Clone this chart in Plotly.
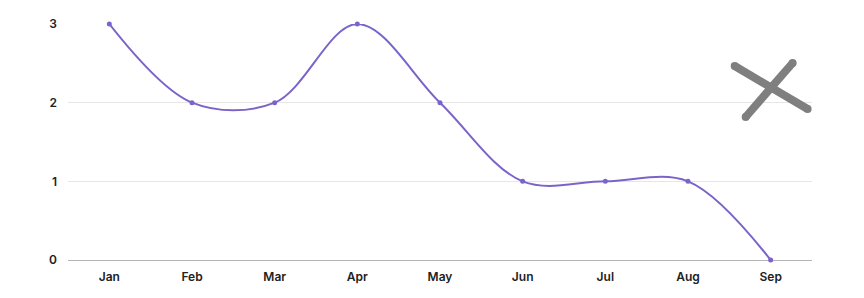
import plotly.graph_objects as go

months = ["Jan", "Feb", "Mar", "Apr", "May", "Jun", "Jul", "Aug", "Sep"]
values = [3, 2, 2, 3, 2, 1, 1, 1, 0]
y_ticks = [0, 1, 2, 3]

LINE_COLOR = "#7b64c9"
X_COLOR = "#7f7f7f"

fig = go.Figure()
fig.add_trace(go.Scatter(
    x=months, y=values, mode="lines+markers",
    line=dict(color=LINE_COLOR, width=2, shape="spline", smoothing=1),
    marker=dict(color=LINE_COLOR, size=5),
    cliponaxis=False, hoverinfo="x+y", showlegend=False,
))

# decorative gray "X" in paper coordinates
L, R, T, B = 67.6, 812.4, 24.0, 260.0
def px(xp): return (xp - L) / (R - L)
def py(yp): return (B - yp) / (B - T)

segs = [((735, 66), (808, 109)), ((746, 117), (793, 63))]
shapes = []
w = 8
for (a, b) in segs:
    shapes.append(dict(type="line", xref="paper", yref="paper",
                       x0=px(a[0]), y0=py(a[1]), x1=px(b[0]), y1=py(b[1]),
                       line=dict(color=X_COLOR, width=w), layer="above"))
    for p in (a, b):
        shapes.append(dict(type="circle", xref="paper", yref="paper",
                           xsizemode="pixel", ysizemode="pixel",
                           xanchor=px(p[0]), yanchor=py(p[1]),
                           x0=-w / 2, x1=w / 2, y0=-w / 2, y1=w / 2,
                           fillcolor=X_COLOR, line=dict(width=0), layer="above"))

fig.update_layout(
    width=864, height=298,
    margin=dict(l=68, r=52, t=24, b=38),
    paper_bgcolor="white", plot_bgcolor="white",
    font=dict(family="Inter, Open Sans, sans-serif", size=12, color="#222222"),
    shapes=shapes,
    xaxis=dict(type="category", range=[-0.5, 8.5], showgrid=False,
               showline=False, zeroline=False, ticks="", fixedrange=True,
               ticklabelstandoff=8,
               tickfont=dict(size=12, color="#222222", weight=600)),
    yaxis=dict(range=[0, 3], tickvals=y_ticks, showgrid=True, gridcolor="#e6e6e6",
               gridwidth=1, zeroline=True, zerolinecolor="#b5b5b5", zerolinewidth=1,
               showline=False, ticks="", ticklabelstandoff=10,
               tickfont=dict(size=12, color="#222222", weight=600)),
)

fig.write_html("out.html")
